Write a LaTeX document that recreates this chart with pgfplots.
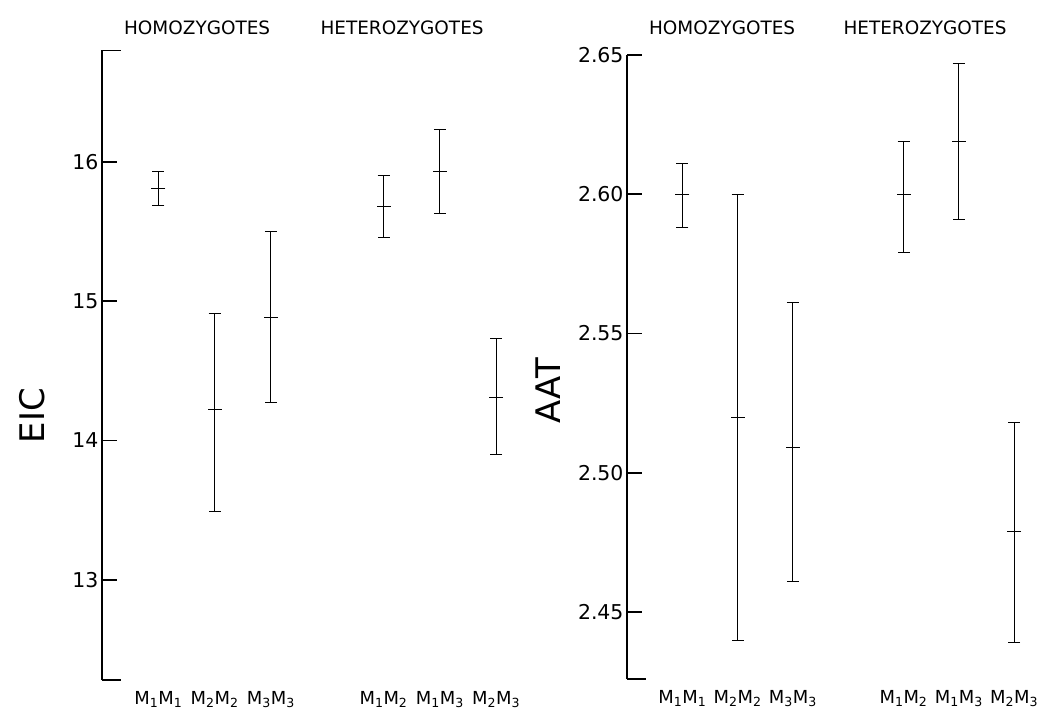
\documentclass[border=0pt]{standalone}
\usepackage{fontspec}
\setmainfont{DejaVu Sans}
\usepackage{pgfplots}
\usepackage{pgfplotstable}
\pgfplotsset{compat=1.18}

% mean, lower and upper end of each bar
\pgfplotstableread{
x mean lo hi
1 15.81 15.69 15.93
2 14.22 13.49 14.91
3 14.88 14.27 15.50
5 15.68 15.46 15.90
6 15.93 15.63 16.23
7 14.31 13.90 14.73
}\eicdata

\pgfplotstableread{
x mean lo hi
1 2.600 2.588 2.611
2 2.520 2.440 2.600
3 2.509 2.461 2.561
5 2.600 2.579 2.619
6 2.619 2.591 2.647
7 2.479 2.439 2.518
}\aatdata

\pgfplotsset{
  panel/.style={
    axis y line=left, axis x line=bottom,
    axis line style={-, line width=1.6bp},
    x axis line style={draw=none},
    xmin=0, xmax=7.6,
    xtick={1,2,3,5,6,7},
    xticklabels={M\textsubscript{1}M\textsubscript{1},M\textsubscript{2}M\textsubscript{2},M\textsubscript{3}M\textsubscript{3},
                 M\textsubscript{1}M\textsubscript{2},M\textsubscript{1}M\textsubscript{3},M\textsubscript{2}M\textsubscript{3}},
    major x tick style={draw=none},
    ytick align=inside,
    major tick length=15bp,
    y tick style={black, line width=1.6bp},
    extra y tick style={major tick length=19bp},
    extra y tick labels={},
    yticklabel style={font=\fontsize{20.5}{22}\selectfont},
    xticklabel style={font=\fontsize{18}{20}\selectfont},
    /pgf/number format/assume math mode=true,
    scaled y ticks=false,
    clip=false,
  },
  bars/.style={
    black, only marks, mark=-, mark size=7bp, mark options={line width=0.9bp},
    error bars/.cd, y dir=both, y explicit,
    error bar style={line width=0.9bp},
    error mark=|,
    error mark options={black, line width=0.9bp, mark size=6bp},
  },
}

\begin{document}
\begin{tikzpicture}
\begin{axis}[panel,
  at={(0bp,0bp)}, anchor=south west,
  x=56.3bp, y=139.3bp,
  ymin=12.28, ymax=16.8,
  ytick={13,14,15,16},
  extra y ticks={12.28,16.8},
  ylabel={EIC},
  ylabel style={at={(axis description cs:-0.164,0.42)}, anchor=center, rotate=0, font=\fontsize{34}{36}\selectfont},
]
\addplot[bars] table[x=x, y=mean,
  y error plus expr=\thisrow{hi}-\thisrow{mean},
  y error minus expr=\thisrow{mean}-\thisrow{lo}] {\eicdata};
\node[font=\fontsize{18.5}{20}\selectfont] at (axis cs:1.69,16.96) {HOMOZYGOTES};
\node[font=\fontsize{18.5}{20}\selectfont] at (axis cs:5.33,16.96) {HETEROZYGOTES};
\end{axis}

\begin{axis}[panel,
  at={(525bp,1bp)}, anchor=south west,
  x=55.3bp, y=2786bp,
  ymin=2.426, ymax=2.65,
  ytick={2.45,2.50,2.55,2.60,2.65},
  extra y ticks={2.426},
  yticklabel style={/pgf/number format/.cd, fixed, fixed zerofill, precision=2},
  ylabel={AAT},
  ylabel style={at={(axis description cs:-0.188,0.462)}, anchor=center, rotate=0, font=\fontsize{34}{36}\selectfont},
]
\addplot[bars] table[x=x, y=mean,
  y error plus expr=\thisrow{hi}-\thisrow{mean},
  y error minus expr=\thisrow{mean}-\thisrow{lo}] {\aatdata};
\node[font=\fontsize{18.5}{20}\selectfont] at (axis cs:1.72,2.6597) {HOMOZYGOTES};
\node[font=\fontsize{18.5}{20}\selectfont] at (axis cs:5.39,2.6597) {HETEROZYGOTES};
\end{axis}

\pgfresetboundingbox
\path[use as bounding box] (-102bp,-31bp) rectangle (949bp,680bp);
\end{tikzpicture}
\end{document}
